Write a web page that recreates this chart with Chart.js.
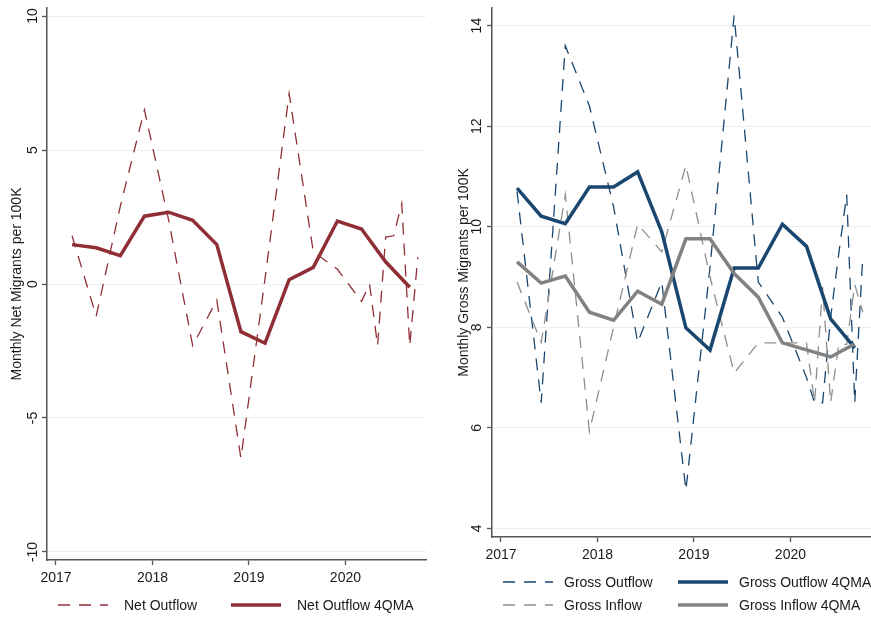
<!DOCTYPE html>
<html>
<head>
<meta charset="utf-8">
<script src="https://cdn.jsdelivr.net/npm/chart.js@4.4.1/dist/chart.umd.min.js"></script>
<style>
  html, body { margin: 0; padding: 0; background: #fff; width: 871px; height: 618px; overflow: hidden;
    font-family: "Liberation Sans", Arial, sans-serif; }
  canvas { position: absolute; top: 0; }
  #netChart { left: 0; }
  #grossChart { left: 445px; }
  .leg { position: absolute; height: 18px; line-height: 18px; font-size: 14px; color: #1a1a1a; white-space: nowrap; }
  .leg svg { position: absolute; top: 0; }
  .leg span { position: absolute; top: 0; }
</style>
</head>
<body>
<canvas id="netChart" width="435" height="618"></canvas>
<canvas id="grossChart" width="426" height="618"></canvas>
<div id="legends"></div>
<script>
// Monthly observations (quarterly through March 2020, monthly afterwards)
const periods = ['2017-03','2017-06','2017-09','2017-12','2018-03','2018-06','2018-09','2018-12',
                 '2019-03','2019-06','2019-09','2019-12','2020-03','2020-04','2020-05','2020-06',
                 '2020-07','2020-08','2020-09','2020-10'];
// Four-quarter moving averages
const quarters = ['2017-03','2017-06','2017-09','2017-12','2018-03','2018-06','2018-09','2018-12',
                  '2019-03','2019-06','2019-09','2019-12','2020-03','2020-06','2020-09'];

const netOutflow      = [1.8, -1.2, 2.9, 6.5, 2.4, -2.3, -0.6, -6.5, 0.2, 7.1, 1.2, 0.55, -0.65, 0.0, -2.3, 1.75, 1.8, 3.0, -2.3, 1.0];
const netOutflow4QMA  = [1.47, 1.35, 1.06, 2.53, 2.68, 2.38, 1.47, -1.78, -2.21, 0.16, 0.62, 2.35, 2.05, 0.83, -0.12];

const grossOutflow     = [10.7, 6.5, 13.6, 12.4, 10.4, 7.7, 8.9, 4.76, 9.2, 14.2, 8.9, 8.2, 7.0, 6.5, 6.5, 8.2, 9.45, 10.64, 6.5, 9.42];
const grossInflow      = [8.9, 7.7, 10.64, 5.93, 8.0, 10.05, 9.5, 11.22, 9.0, 7.09, 7.69, 7.69, 7.69, 6.5, 8.8, 6.5, 7.66, 7.66, 8.85, 8.3];
const grossOutflow4QMA = [10.77, 10.21, 10.06, 10.79, 10.79, 11.09, 9.9, 7.99, 7.55, 9.18, 9.18, 10.05, 9.61, 8.17, 7.59];
const grossInflow4QMA  = [9.30, 8.88, 9.02, 8.30, 8.14, 8.72, 8.46, 9.76, 9.76, 9.07, 8.60, 7.69, 7.55, 7.41, 7.67];

const yearTicks  = [2017, 2018, 2019, 2020];
const netTicks   = [-10, -5, 0, 5, 10];
const grossTicks = [4, 6, 8, 10, 12, 14];

const MAROON = '#902e35', NAVY = '#1a476f', GRAY = '#828282', GRAY_DASH = '#8e8e8e';
const DASH = [12, 9];
const FONT = '"Liberation Sans", Arial, sans-serif';
const AXIS = '#555555';

function toYear(p) { const [y, m] = p.split('-').map(Number); return y + (m - 1) / 12; }
function points(labels, values) { return labels.map((p, i) => ({ x: toYear(p), y: values[i] })); }

function line(label, labels, values, color, width, dashed) {
  return {
    label, data: points(labels, values),
    borderColor: color, borderWidth: width, borderDash: dashed ? DASH : [],
    pointRadius: 0, tension: 0, fill: false, borderJoinStyle: 'miter'
  };
}

function options(yMin, yMax, yTickVals, yTitle, xHeight, tickPad, titlePad, rightPad) {
  return {
    responsive: false, animation: false, devicePixelRatio: 1,
    layout: { padding: { left: 0, top: 8, right: rightPad, bottom: 0 } },
    plugins: { legend: { display: false }, tooltip: { enabled: false } },
    scales: {
      x: {
        type: 'linear', min: 2016.907, max: 2020.835,
        afterBuildTicks: s => { s.ticks = yearTicks.map(v => ({ value: v })); },
        afterFit: s => { s.height = xHeight; s.paddingLeft = 0; s.paddingRight = 0; },
        ticks: { callback: v => String(v), color: '#1a1a1a', font: { family: FONT, size: 14 }, padding: 5, maxRotation: 0 },
        grid: { drawOnChartArea: false, drawTicks: true, tickLength: 5, tickColor: AXIS, tickWidth: 1.3 },
        border: { display: true, color: AXIS, width: 1.5 }
      },
      y: {
        type: 'linear', min: yMin, max: yMax,
        afterBuildTicks: s => { s.ticks = yTickVals.map(v => ({ value: v })); },
        afterFit: s => { s.width = 47; s.paddingTop = 0; s.paddingBottom = 0; },
        ticks: { callback: v => String(v), color: '#1a1a1a', font: { family: FONT, size: 14 },
                 minRotation: 90, maxRotation: 90, crossAlign: 'center', padding: tickPad },
        grid: { color: '#e8f0f1', lineWidth: 1, drawTicks: true, tickLength: 5, tickColor: AXIS, tickWidth: 1.3 },
        border: { display: true, color: AXIS, width: 1.5 },
        title: { display: true, text: yTitle, color: '#1a1a1a', font: { family: FONT, size: 14 },
                 padding: { top: titlePad, bottom: 0 } }
      }
    }
  };
}

new Chart(document.getElementById('netChart'), {
  type: 'line',
  data: { datasets: [
    Object.assign(line('Net Outflow 4QMA', quarters, netOutflow4QMA, MAROON, 3.5, false), { order: 0 }),
    Object.assign(line('Net Outflow', periods, netOutflow, MAROON, 1.3, true), { order: 1 })
  ] },
  options: options(-10.3, 10.3, netTicks, 'Monthly Net Migrants per 100K', 58, -1, 9, 9)
});

new Chart(document.getElementById('grossChart'), {
  type: 'line',
  data: { datasets: [
    Object.assign(line('Gross Inflow 4QMA', quarters, grossInflow4QMA, GRAY, 3.5, false), { order: 0 }),
    Object.assign(line('Gross Outflow 4QMA', quarters, grossOutflow4QMA, NAVY, 3.5, false), { order: 1 }),
    Object.assign(line('Gross Inflow', periods, grossInflow, GRAY_DASH, 1.3, true), { order: 2 }),
    Object.assign(line('Gross Outflow', periods, grossOutflow, NAVY, 1.3, true), { order: 3 })
  ] },
  options: options(3.83, 14.35, grossTicks, 'Monthly Gross Migrants per 100K', 81, 2, 11, 0)
});

// Legend keys below each panel
const legendItems = [
  { label: 'Net Outflow',        x: 58,  tx: 124, y: 605, color: MAROON,    width: 1.3, dashed: true },
  { label: 'Net Outflow 4QMA',   x: 231, tx: 297, y: 605, color: MAROON,    width: 3.5, dashed: false },
  { label: 'Gross Outflow',      x: 503, tx: 564, y: 582, color: NAVY,      width: 1.3, dashed: true },
  { label: 'Gross Outflow 4QMA', x: 678, tx: 739, y: 582, color: NAVY,      width: 3.5, dashed: false },
  { label: 'Gross Inflow',       x: 503, tx: 564, y: 605, color: GRAY_DASH, width: 1.3, dashed: true },
  { label: 'Gross Inflow 4QMA',  x: 678, tx: 739, y: 605, color: GRAY,      width: 3.5, dashed: false }
];
const host = document.getElementById('legends');
legendItems.forEach(it => {
  const d = document.createElement('div');
  d.className = 'leg';
  d.style.left = it.x + 'px';
  d.style.top = (it.y - 9) + 'px';
  const len = 50;
  const dash = it.dashed ? ` stroke-dasharray="${DASH.join(' ')}"` : '';
  d.innerHTML = `<svg width="${len}" height="18" style="left:0"><line x1="0" y1="9" x2="${len}" y2="9" stroke="${it.color}" stroke-width="${it.width}"${dash}/></svg>` +
                `<span style="left:${it.tx - it.x}px">${it.label}</span>`;
  host.appendChild(d);
});
</script>
</body>
</html>
